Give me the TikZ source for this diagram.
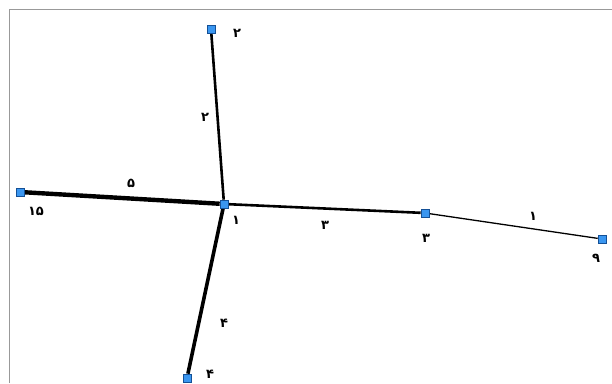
\documentclass[tikz,border=0pt]{standalone}
\usepackage{fontspec}
\usepackage{xcolor}
\usetikzlibrary{backgrounds}
\newfontfamily\arabicfont[Script=Arabic]{DejaVu Sans}
\TeXXeTstate=1

\begin{document}
\begin{tikzpicture}[x=1pt,y=-1pt]
  \definecolor{nodeFill}{RGB}{58,150,240}
  \definecolor{nodeEdge}{RGB}{20,80,150}
  \tikzset{
    junction/.style={rectangle, draw=nodeEdge, fill=nodeFill, line width=0.6pt, minimum size=8pt, inner sep=0pt},
    tag/.style={font=\arabicfont\bfseries\fontsize{13}{14}\selectfont, inner sep=0pt}
  }
  \useasboundingbox (0,0) rectangle (612,383);
  \draw[gray!80, line width=0.8pt] (9,383) -- (9,9) -- (612,9);
  % junctions
  \node[junction] (n1) at (224,204) {};
  \node[junction] (n2) at (211,29) {};
  \node[junction] (n15) at (20,192) {};
  \node[junction] (n3) at (425,213) {};
  \node[junction] (n9) at (602,239) {};
  \node[junction] (n4) at (187,378) {};
  % pipes
  \begin{scope}[on background layer, line cap=round]
    \draw[line width=4.4pt] (n15) -- (n1);
    \draw[line width=3.6pt] (n1) -- (n4);
    \draw[line width=2.6pt] (n1) -- (n2);
    \draw[line width=2.6pt] (n1) -- (n3);
    \draw[line width=1.3pt] (n3) -- (n9);
  \end{scope}
  % node numbers
  \node[tag] (t2) at (237,33) {۲};
  \node[tag] (t15) at (36,211) {۱۵};
  \node[tag] (t1) at (236,220) {۱};
  \node[tag] (t3) at (426,238) {۳};
  \node[tag] (t9) at (596,258) {۹};
  \node[tag] (t4) at (210,374) {۴};
  % pipe numbers
  \node[tag] (p2) at (205,117) {۲};
  \node[tag] (p5) at (131,183) {۵};
  \node[tag] (p3) at (325,225) {۳};
  \node[tag] (p1) at (533,216) {۱};
  \node[tag] (p4) at (224,323) {۴};
\end{tikzpicture}
\end{document}
